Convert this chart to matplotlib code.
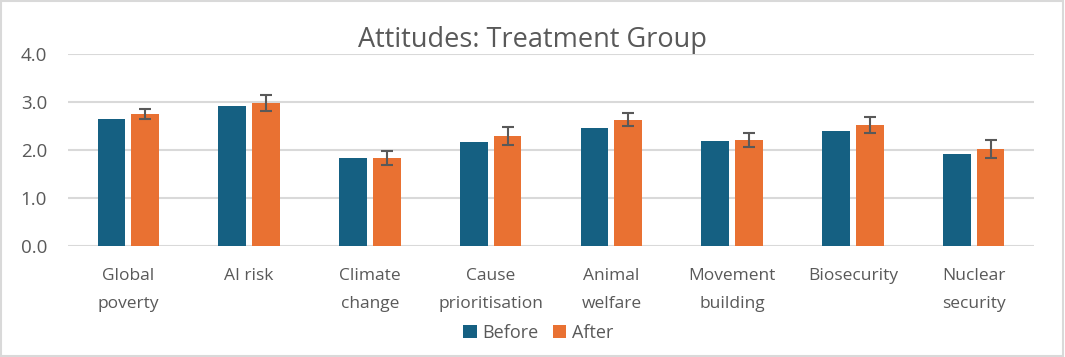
import matplotlib
matplotlib.use("Agg")
import matplotlib.pyplot as plt
import numpy as np
from matplotlib.patches import Rectangle

categories = ["Global\npoverty", "AI risk", "Climate\nchange", "Cause\nprioritisation",
              "Animal\nwelfare", "Movement\nbuilding", "Biosecurity", "Nuclear\nsecurity"]
before = [2.65, 2.92, 1.83, 2.17, 2.46, 2.19, 2.40, 1.92]
after = [2.75, 2.98, 1.83, 2.29, 2.63, 2.21, 2.52, 2.02]
after_err = [0.11, 0.16, 0.15, 0.18, 0.14, 0.14, 0.16, 0.19]
yticks = [0.0, 1.0, 2.0, 3.0, 4.0]

plt.rcParams['font.family'] = ['Open Sans', 'DejaVu Sans']
TXT = '#595959'
C_BEFORE = '#156082'
C_AFTER = '#E97132'
GRID = '#D9D9D9'

fig = plt.figure(figsize=(10.65, 3.57), dpi=100)
ax = fig.add_axes([68/1065, 1-246/357, (1034-68)/1065, (246-54)/357])

x = np.arange(len(categories))
w = 0.23
off = 0.14
ax.bar(x - off, before, w, color=C_BEFORE, label='Before', zorder=3)
ax.bar(x + off, after, w, color=C_AFTER, label='After', zorder=3,
       yerr=after_err, error_kw=dict(ecolor=TXT, elinewidth=1.5, capsize=4, capthick=1.5, zorder=4))

ax.set_xlim(-0.5, len(categories) - 0.5)
ax.set_ylim(0, 4)
ax.set_yticks(yticks)
ax.set_yticklabels([f"{v:.1f}" for v in yticks], fontsize=13.5, color=TXT)
ax.set_xticks(x)
ax.set_xticklabels(categories, fontsize=12.5, color=TXT, linespacing=1.95)
ax.tick_params(axis='both', length=0)
ax.tick_params(axis='x', pad=16)
ax.tick_params(axis='y', pad=15)
ax.grid(axis='y', color=GRID, linewidth=1.5, zorder=0)
ax.set_axisbelow(True)
for s in ax.spines.values():
    s.set_visible(False)

fig.text(0.5, 1-40/357, "Attitudes: Treatment Group", ha='center', va='center',
         fontsize=19.5, color=TXT)

leg = fig.legend(loc='center', bbox_to_anchor=(538/1065, 1-333/357), ncol=2, frameon=False,
                 fontsize=13, handlelength=0.75, handleheight=0.75, handletextpad=0.3,
                 columnspacing=0.8, labelcolor=TXT)

fig.patches.append(Rectangle((0.001, 0.002), 0.997, 0.995, transform=fig.transFigure,
                             fill=False, edgecolor=GRID, linewidth=1.5))

fig.savefig("out.png", dpi=100)
